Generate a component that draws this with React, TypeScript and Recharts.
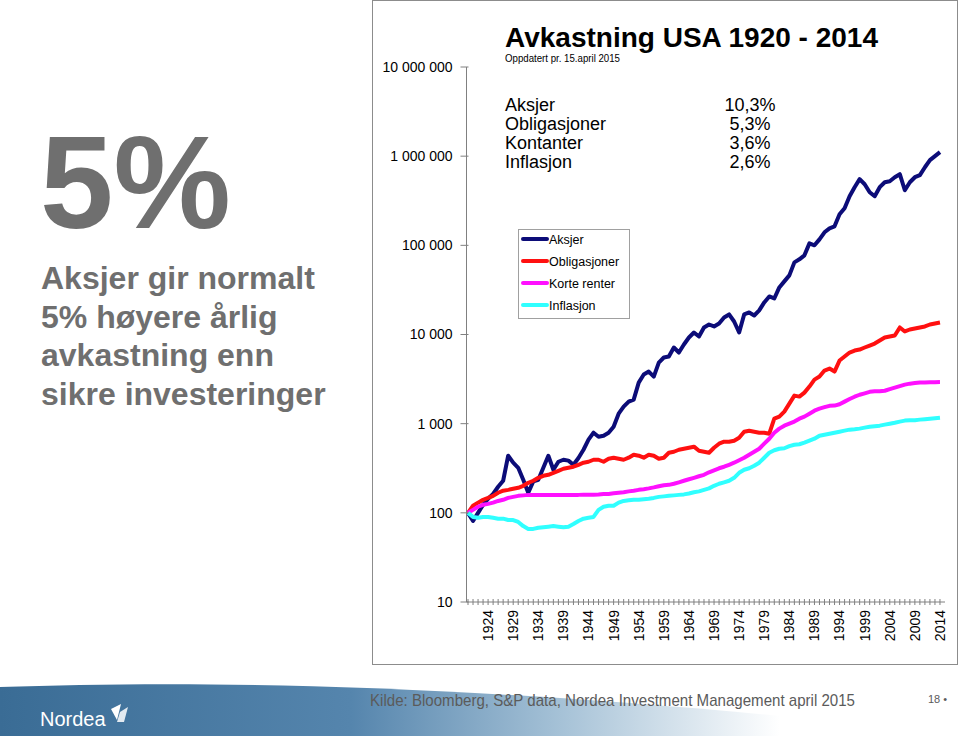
import { Line, LineChart, XAxis, YAxis } from 'recharts';

// years 1920 - 2014, one value per year, indexed to 100 at start
const years = Array.from({ length: 95 }, (_, i) => 1920 + i);
const labelYears = [1924, 1929, 1934, 1939, 1944, 1949, 1954, 1959, 1964, 1969, 1974, 1979, 1984, 1989, 1994, 1999, 2004, 2009, 2014];
const yTicks = [10, 100, 1000, 10000, 100000, 1000000, 10000000];

const aksjer = [
	100, 81, 100, 123, 144, 163, 196, 229, 437, 365,
	320, 235, 168, 225, 235, 320, 437, 304, 374, 394,
	385, 346, 412, 510, 661, 792, 714, 733, 792, 925,
	1295, 1552, 1767, 1862, 2890, 3556, 3840, 3375, 4842, 5520,
	5660, 7145, 6280, 7725, 9250, 10520, 9500, 11990, 12950, 12300,
	13300, 15520, 16790, 14000, 10520, 16790, 17670, 16340, 18620, 22900,
	26720, 25360, 33740, 39430, 46030, 64420, 69660, 77270, 105200, 100000,
	116700, 140000, 155200, 163400, 222900, 260400, 355400, 448700, 552000, 484400,
	394400, 355400, 448700, 510300, 523600, 580700, 628100, 415000, 510300, 580700,
	612300, 751600, 901600, 1000000, 1109000,
];

const obligasjoner = [
	100, 120, 130, 140, 147, 155, 168, 177, 181, 186,
	191, 201, 217, 229, 247, 260, 267, 281, 296, 312,
	320, 329, 346, 365, 374, 394, 394, 374, 404, 415,
	404, 394, 415, 448, 437, 415, 448, 437, 404, 415,
	472, 484, 510, 523, 537, 552, 497, 484, 472, 537,
	596, 628, 628, 644, 696, 813, 834, 813, 792, 792,
	772, 1138, 1198, 1364, 1678, 2064, 2011, 2230, 2606, 3121,
	3375, 3942, 4150, 3840, 5105, 5660, 6280, 6607, 6780, 7145,
	7520, 7920, 8570, 9250, 9500, 9750, 11990, 10810, 11380, 11670,
	11990, 12300, 12950, 13300, 13640,
];

const korteRenter = [
	100, 108, 117, 123, 126, 130, 136, 140, 147, 151,
	155, 157, 159, 159, 159, 159, 159, 159, 159, 159,
	159, 159, 159, 160, 160, 160, 161, 163, 163, 166,
	168, 170, 174, 177, 181, 184, 188, 193, 199, 204,
	206, 212, 220, 229, 238, 247, 257, 267, 285, 300,
	316, 329, 346, 365, 389, 415, 448, 484, 523, 596,
	678, 792, 880, 950, 1000, 1055, 1137, 1200, 1295, 1398,
	1472, 1530, 1586, 1595, 1650, 1767, 1889, 2007, 2110, 2190,
	2274, 2305, 2305, 2340, 2445, 2540, 2640, 2740, 2810, 2850,
	2890, 2900, 2920, 2920, 2930,
];

const inflasjon = [
	100, 90, 88, 90, 90, 88, 86, 86, 83, 83,
	79, 71, 66, 66, 68, 69, 70, 71, 70, 69,
	70, 75, 81, 86, 88, 90, 108, 117, 120, 120,
	130, 136, 138, 140, 140, 142, 144, 147, 151, 153,
	155, 157, 159, 161, 165, 170, 174, 181, 188, 201,
	212, 220, 229, 247, 281, 304, 316, 337, 365, 415,
	472, 503, 523, 530, 560, 580, 588, 612, 644, 678,
	733, 752, 772, 792, 813, 835, 857, 867, 880, 903,
	925, 937, 950, 975, 1000, 1025, 1055, 1082, 1095, 1095,
	1110, 1122, 1137, 1150, 1165,
];

const statLabels = ['Aksjer', 'Obligasjoner', 'Kontanter', 'Inflasjon'];
const statValues = ['10,3%', '5,3%', '3,6%', '2,6%'];

const series = [
	{ key: 'aksjer', name: 'Aksjer', color: '#0c0c78' },
	{ key: 'obligasjoner', name: 'Obligasjoner', color: '#ff1010' },
	{ key: 'korteRenter', name: 'Korte renter', color: '#ff10ff' },
	{ key: 'inflasjon', name: 'Inflasjon', color: '#30ffff' },
];

const data = years.map((year, i) => ({
	year,
	aksjer: aksjer[i],
	obligasjoner: obligasjoner[i],
	korteRenter: korteRenter[i],
	inflasjon: inflasjon[i],
}));

const FONT = "'Liberation Sans', Arial, sans-serif";
const NARROW = "'Liberation Sans Narrow', 'Liberation Sans', Arial, sans-serif";
const AXIS = '#808080';

function fmt(v: number) {
	return String(v).replace(/\B(?=(\d{3})+(?!\d))/g, ' ');
}

function XTick({ x, y, payload }: any) {
	const year = payload.value;
	return (
		<g>
			<line x1={x} x2={x} y1={y - 3} y2={y + 3} stroke={AXIS} />
			{labelYears.includes(year) && (
				<text
					transform={`translate(${x},${y + 8}) rotate(-90)`}
					textAnchor="end"
					dy="0.35em"
					fontSize={14}
					fontFamily={FONT}
					fill="#000"
				>
					{year}
				</text>
			)}
		</g>
	);
}

function YTick({ x, y, payload }: any) {
	return (
		<g>
			<line x1={x - 6} x2={x + 2} y1={y} y2={y} stroke={AXIS} />
			<text x={x - 14} y={y} dy="0.35em" textAnchor="end" fontSize={14} fontFamily={FONT} fill="#000">
				{fmt(payload.value)}
			</text>
		</g>
	);
}

export default function App() {
	return (
		<div style={{ position: 'absolute', left: 0, top: 0, width: 960, height: 736, background: '#fff', overflow: 'hidden' }}>
			{/* footer swoosh and frame */}
			<svg width={960} height={736} style={{ position: 'absolute', left: 0, top: 0 }}>
				<defs>
					<linearGradient id="swoosh" x1="0" y1="0" x2="1" y2="0">
						<stop offset="0%" stopColor="#3a6c95" />
						<stop offset="45%" stopColor="#5585ad" />
						<stop offset="72%" stopColor="#a6c2d7" />
						<stop offset="100%" stopColor="#ffffff" />
					</linearGradient>
				</defs>
				<path d="M0,687 C180,681 420,682 780,716 L780,736 L0,736 Z" fill="url(#swoosh)" />
				<rect x={372.5} y={0.5} width={585} height={664} fill="none" stroke="#8c8c8c" />
			</svg>

			<div style={{ position: 'absolute', left: 0, top: 0 }}>
				<LineChart width={960} height={736} data={data} margin={{ top: 67, right: 15, bottom: 74, left: 0 }}>
					<XAxis
						dataKey="year"
						type="number"
						domain={[1919.7, 2015]}
						ticks={years}
						interval={0}
						tickSize={0}
						tickMargin={0}
						tickLine={false}
						axisLine={{ stroke: AXIS }}
						tick={(p: any) => <XTick {...p} />}
						height={60}
						allowDataOverflow
					/>
					<YAxis
						type="number"
						scale="log"
						domain={[10, 10000000]}
						ticks={yTicks}
						interval={0}
						width={466.5}
						tickSize={0}
						tickMargin={0}
						tickLine={false}
						axisLine={{ stroke: AXIS }}
						tick={(p: any) => <YTick {...p} />}
						allowDataOverflow
					/>
					{series.map((s) => (
						<Line
							key={s.key}
							dataKey={s.key}
							name={s.name}
							type="linear"
							stroke={s.color}
							strokeWidth={4}
							strokeLinejoin="round"
							dot={false}
							isAnimationActive={false}
						/>
					))}
				</LineChart>
			</div>

			<svg width={960} height={736} style={{ position: 'absolute', left: 0, top: 0, pointerEvents: 'none' }} fontFamily={FONT}>
				{/* left message */}
				<text x={40} y={228} fontSize={132} fontWeight="bold" fill="#6f6f6f">5%</text>
				<g fontSize={32} fontWeight="bold" fill="#6f6f6f">
					<text x={41} y={289}>Aksjer gir normalt</text>
					<text x={41} y={328}>5% høyere årlig</text>
					<text x={41} y={366}>avkastning enn</text>
					<text x={41} y={405}>sikre investeringer</text>
				</g>

				{/* title block */}
				<text x={505} y={47} fontSize={28} fontWeight="bold" fill="#000">Avkastning USA 1920 - 2014</text>
				<text x={505} y={62} fontSize={10.5} fontFamily={NARROW} textLength={115} lengthAdjust="spacingAndGlyphs" fill="#000">
					Oppdatert pr. 15.april 2015
				</text>
				{statLabels.map((l, i) => (
					<text key={l} x={505} y={110.5 + i * 19.3} fontSize={18} fill="#000">{l}</text>
				))}
				{statValues.map((v, i) => (
					<text key={v} x={750} y={110.5 + i * 19.3} fontSize={18} textAnchor="middle" fill="#000">{v}</text>
				))}

				{/* legend */}
				<rect x={518.5} y={229.5} width={111} height={89} fill="#fff" stroke="#a0a0a0" />
				{series.map((s, i) => (
					<g key={s.key}>
						<line x1={523} x2={547} y1={239 + i * 22} y2={239 + i * 22} stroke={s.color} strokeWidth={4} strokeLinecap="round" />
						<text x={549} y={239 + i * 22 + 4.5} fontSize={12.5} fill="#000">{s.name}</text>
					</g>
				))}

				{/* footer */}
				<text x={370} y={706} fontSize={17} fontFamily={NARROW} textLength={485} lengthAdjust="spacingAndGlyphs" fill="#5b5b5b">
					Kilde: Bloomberg, S&amp;P data, Nordea Investment Management april 2015
				</text>
				<text x={928} y={703} fontSize={11} fill="#5b5b5b">18 •</text>
				<text x={40} y={726} fontSize={20} fill="#fff">Nordea</text>
				<path d="M111,709 L121,704 L117,720 Z" fill="#fff" />
				<path d="M120,712 L128,707 L124,722 L117,722 Z" fill="#fff" opacity={0.85} />
			</svg>
		</div>
	);
}
